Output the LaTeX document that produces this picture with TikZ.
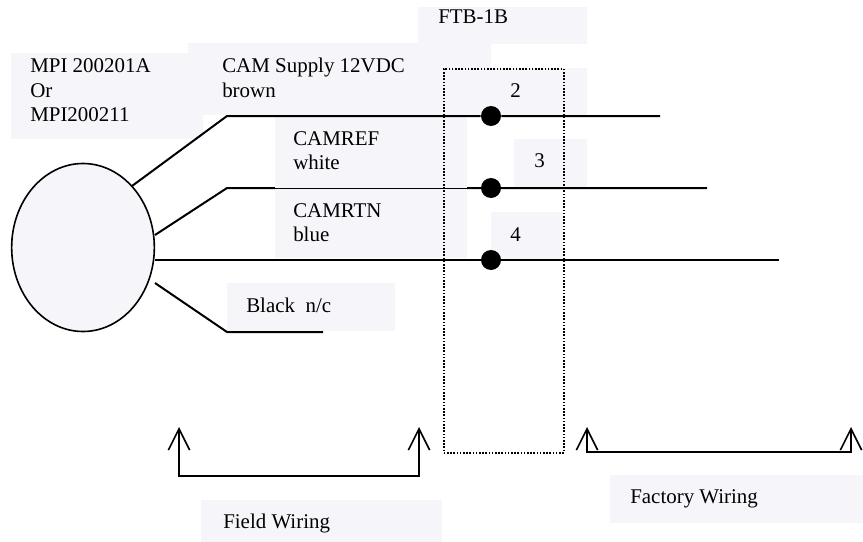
\documentclass[tikz,border=0pt]{standalone}
\usepackage{fontspec}
\setmainfont{Liberation Serif}
\usetikzlibrary{arrows.meta}
\usetikzlibrary{shapes.geometric}
\usetikzlibrary{positioning}

\begin{document}
\begin{tikzpicture}[x=.75pt, y=-.75pt, >={Straight Barb[length=16pt,width=16pt,line width=1.2pt]}]
		 \tikzstyle{panel} = [fill=panelcolor, draw=none, inner sep=0pt, anchor=north west];
		 \tikzstyle{txt} = [inner sep=0pt, anchor=base west, align=left, font=\fontsize{15.7}{18}\selectfont];
		 \tikzstyle{wire} = [line width=1.5pt];
		 \tikzstyle{term} = [circle, fill=black, inner sep=0pt, minimum size=15pt];
		 \definecolor{panelcolor}{RGB}{245,245,250}

		 \useasboundingbox (0,0) rectangle (863,542);

		 % shaded boxes behind the text
		 \node [panel, minimum width=144pt, minimum height=64.5pt] (mpibox) at (11,53) {};
		 \node [panel, minimum width=227.25pt, minimum height=54pt] (supplybox) at (188,43) {};
		 \node [panel, minimum width=126.75pt, minimum height=27.75pt] (ftbbox) at (418,7) {};
		 \node [panel, minimum width=72pt, minimum height=36pt] (twobox) at (491,68) {};
		 \node [panel, minimum width=54.75pt, minimum height=36pt] (threebox) at (514,139) {};
		 \node [panel, minimum width=54pt, minimum height=35.25pt] (fourbox) at (491,212) {};
		 \node [panel, minimum width=126pt, minimum height=36pt] (blackbox) at (227,283) {};
		 \node [panel, minimum width=180.75pt, minimum height=31.5pt] (fieldbox) at (201,500) {};
		 \node [panel, minimum width=189.75pt, minimum height=36pt] (factorybox) at (610,475) {};

		 % the cable and its wires
		 \node [ellipse, draw, fill=panelcolor, line width=1.2pt, inner sep=0pt, minimum width=107pt, minimum height=126pt] (cable) at (83,247.5) {};

		 \coordinate (w2a) at (155,235);
		 \coordinate (w2b) at (227,188);
		 \coordinate (w2c) at (707,188);
		 \draw [wire] (w2a) -- (w2b) -- (w2c);

		 \node [panel, minimum width=144pt, minimum height=53pt] (refbox) at (275,117) {};
		 \node [panel, minimum width=144pt, minimum height=52pt] (rtnbox) at (275,188.6) {};

		 \coordinate (w1a) at (132,186);
		 \coordinate (w1b) at (227,116);
		 \coordinate (w1c) at (660,116);
		 \coordinate (w3a) at (155,260);
		 \coordinate (w3c) at (779,260);
		 \coordinate (w4a) at (155,283);
		 \coordinate (w4b) at (227,332);
		 \coordinate (w4c) at (323,332);

		 \node [term] (t2) at (491,116) {};
		 \node [term] (t3) at (491,188) {};
		 \node [term] (t4) at (491,260) {};

		 \draw [wire] (w1a) -- (w1b) -- (t2) -- (w1c);
		 \draw [wire] (w3a) -- (t4) -- (w3c);
		 \draw [wire] (w4a) -- (w4b) -- (w4c);

		 \node [draw, line width=1.2pt, dash pattern=on 1.2pt off 1.2pt, inner sep=0pt, minimum width=90pt, minimum height=288pt, anchor=north west] (ftb) at (443,68) {};

		 % labels
		 \node [txt] (mpi) at (30,121) {MPI 200201A\\Or\\MPI200211};
		 \node [txt] (supply) at (222,97) {CAM Supply 12VDC\\brown};
		 \node [txt] (ftbname) at (438,24) {FTB-1B};
		 \node [txt] (two) at (510,97) {2};
		 \node [txt] (three) at (534,167) {3};
		 \node [txt] (four) at (510,241) {4};
		 \node [txt] (camref) at (293,169) {CAMREF\\white};
		 \node [txt] (camrtn) at (293,241) {CAMRTN\\blue};
		 \node [txt] (black) at (246,312) {Black\ \ n/c};
		 \node [txt] (field) at (223,528) {Field Wiring};
		 \node [txt] (factory) at (630,503) {Factory Wiring};

		 % brackets under the wiring
		 \coordinate (fa) at (179,427);
		 \coordinate (fb) at (179,476);
		 \coordinate (fc) at (419,476);
		 \coordinate (fd) at (419,427);
		 \draw [wire, <->] (fa) -- (fb) -- (fc) -- (fd);
		 \coordinate (ga) at (587,427);
		 \coordinate (gb) at (587,452);
		 \coordinate (gc) at (851,452);
		 \coordinate (gd) at (851,427);
		 \draw [wire, <->] (ga) -- (gb) -- (gc) -- (gd);
\end{tikzpicture}
\end{document}
